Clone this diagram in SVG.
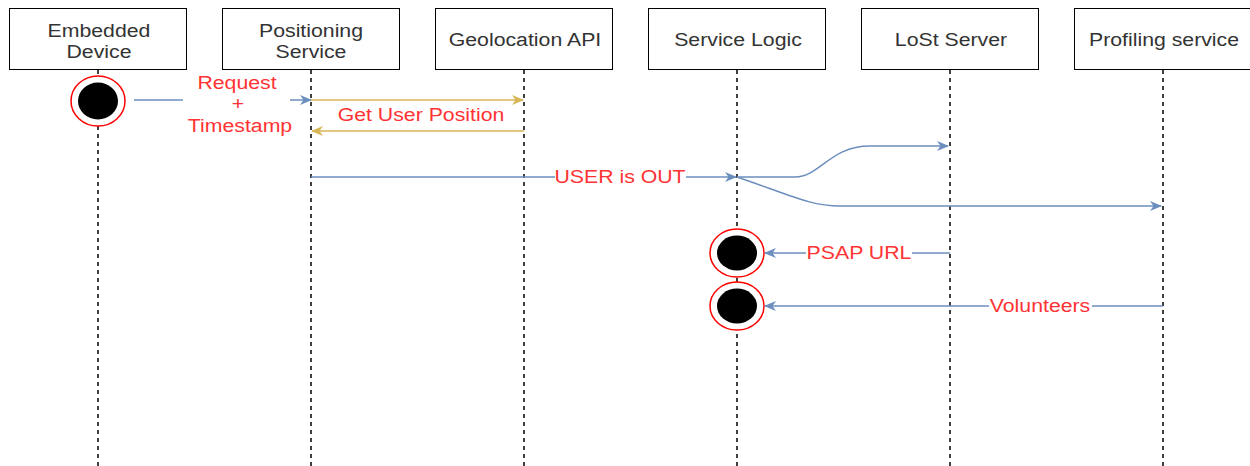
<svg xmlns="http://www.w3.org/2000/svg" width="1250" height="466" viewBox="0 0 1250 466">
<style>
.box{fill:#fff;stroke:#000;stroke-width:1}
.t{font-family:"Liberation Sans",Arial,sans-serif;font-size:19px;fill:#333;text-anchor:middle}
.life{stroke:#000;stroke-width:1.5;stroke-dasharray:4 4;fill:none}
.lbl{font-family:"Liberation Sans",Arial,sans-serif;font-size:19px;fill:#FF3333;text-anchor:middle}
.bl{stroke:#6C8EBF;stroke-width:1.5;fill:none}
.yl{stroke:#D6B656;stroke-width:1.5;fill:none}
.ring{fill:#fff;stroke:#FF0000;stroke-width:1.5}
</style>
<defs>
<marker id="ab" viewBox="0 0 12 10" refX="11" refY="5" markerWidth="12" markerHeight="10" markerUnits="userSpaceOnUse" orient="auto"><path d="M0,0 L12,5 L0,10 L3.5,5 Z" fill="#6C8EBF"/></marker>
<marker id="ay" viewBox="0 0 12 10" refX="11" refY="5" markerWidth="12" markerHeight="10" markerUnits="userSpaceOnUse" orient="auto"><path d="M0,0 L12,5 L0,10 L3.5,5 Z" fill="#D6B656"/></marker>
</defs>
<g id="lifelines">
<line class="life" x1="98" y1="70" x2="98" y2="466"/>
<line class="life" x1="311" y1="70" x2="311" y2="466"/>
<line class="life" x1="524" y1="70" x2="524" y2="466"/>
<line class="life" x1="737" y1="70" x2="737" y2="466"/>
<line class="life" x1="950" y1="70" x2="950" y2="466"/>
<line class="life" x1="1163" y1="70" x2="1163" y2="466"/>
</g>
<g id="embedded-device"><rect class="box" x="9.5" y="8.5" width="177" height="61"/><text class="t" transform="translate(99,37) scale(1.12,1)">Embedded</text><text class="t" transform="translate(99,58) scale(1.12,1)">Device</text></g>
<g id="positioning-service"><rect class="box" x="222.5" y="8.5" width="177" height="61"/><text class="t" transform="translate(311,37) scale(1.12,1)">Positioning</text><text class="t" transform="translate(311,58) scale(1.12,1)">Service</text></g>
<g id="geolocation-api"><rect class="box" x="435.5" y="8.5" width="177" height="61"/><text class="t" transform="translate(525,46) scale(1.12,1)">Geolocation API</text></g>
<g id="service-logic"><rect class="box" x="648.5" y="8.5" width="177" height="61"/><text class="t" transform="translate(738,46) scale(1.12,1)">Service Logic</text></g>
<g id="lost-server"><rect class="box" x="861.5" y="8.5" width="177" height="61"/><text class="t" transform="translate(951,46) scale(1.12,1)">LoSt Server</text></g>
<g id="profiling-service"><rect class="box" x="1074.5" y="8.5" width="177" height="61"/><text class="t" transform="translate(1164,46) scale(1.12,1)">Profiling service</text></g>
<g id="start-embedded"><ellipse class="ring" cx="98" cy="101" rx="27" ry="25"/><ellipse cx="98" cy="101" rx="20" ry="18.5" fill="#000"/></g>
<g id="end-psap"><ellipse class="ring" cx="737" cy="253" rx="27" ry="24"/><ellipse cx="737" cy="253" rx="20" ry="17.5" fill="#000"/></g>
<g id="end-volunteers"><ellipse class="ring" cx="737" cy="306" rx="27" ry="24"/><ellipse cx="737" cy="306" rx="20" ry="17.5" fill="#000"/></g>
<g id="connectors">
<line class="bl" x1="134" y1="100" x2="183" y2="100"/>
<line class="bl" x1="290" y1="100" x2="311" y2="100" marker-end="url(#ab)"/>
<text class="lbl" transform="translate(237,89) scale(1.12,1)">Request</text>
<text class="lbl" transform="translate(238,110) scale(1.12,1)">+</text>
<text class="lbl" transform="translate(240,132) scale(1.12,1)">Timestamp</text>
<line class="yl" x1="311" y1="100" x2="523" y2="100" marker-end="url(#ay)"/>
<line class="yl" x1="524" y1="131" x2="312" y2="131" marker-end="url(#ay)"/>
<text class="lbl" transform="translate(421,121) scale(1.12,1)">Get User Position</text>
<line class="bl" x1="311" y1="177" x2="555" y2="177"/>
<line class="bl" x1="686" y1="177" x2="736" y2="177" marker-end="url(#ab)"/>
<text class="lbl" transform="translate(620,183) scale(1.12,1)">USER is OUT</text>
<path class="bl" d="M737,177 L795,177 C820,177 830,146 870,146 L948,146" marker-end="url(#ab)"/>
<path class="bl" d="M737,177 C790,195 810,206 840,206 L1161,206" marker-end="url(#ab)"/>
<line class="bl" x1="950" y1="253" x2="912" y2="253"/>
<line class="bl" x1="806" y1="253" x2="765" y2="253" marker-end="url(#ab)"/>
<text class="lbl" transform="translate(859,259) scale(1.12,1)">PSAP URL</text>
<line class="bl" x1="1163" y1="306" x2="1092" y2="306"/>
<line class="bl" x1="989" y1="306" x2="765" y2="306" marker-end="url(#ab)"/>
<text class="lbl" transform="translate(1040,312) scale(1.12,1)">Volunteers</text>
</g>
</svg>
